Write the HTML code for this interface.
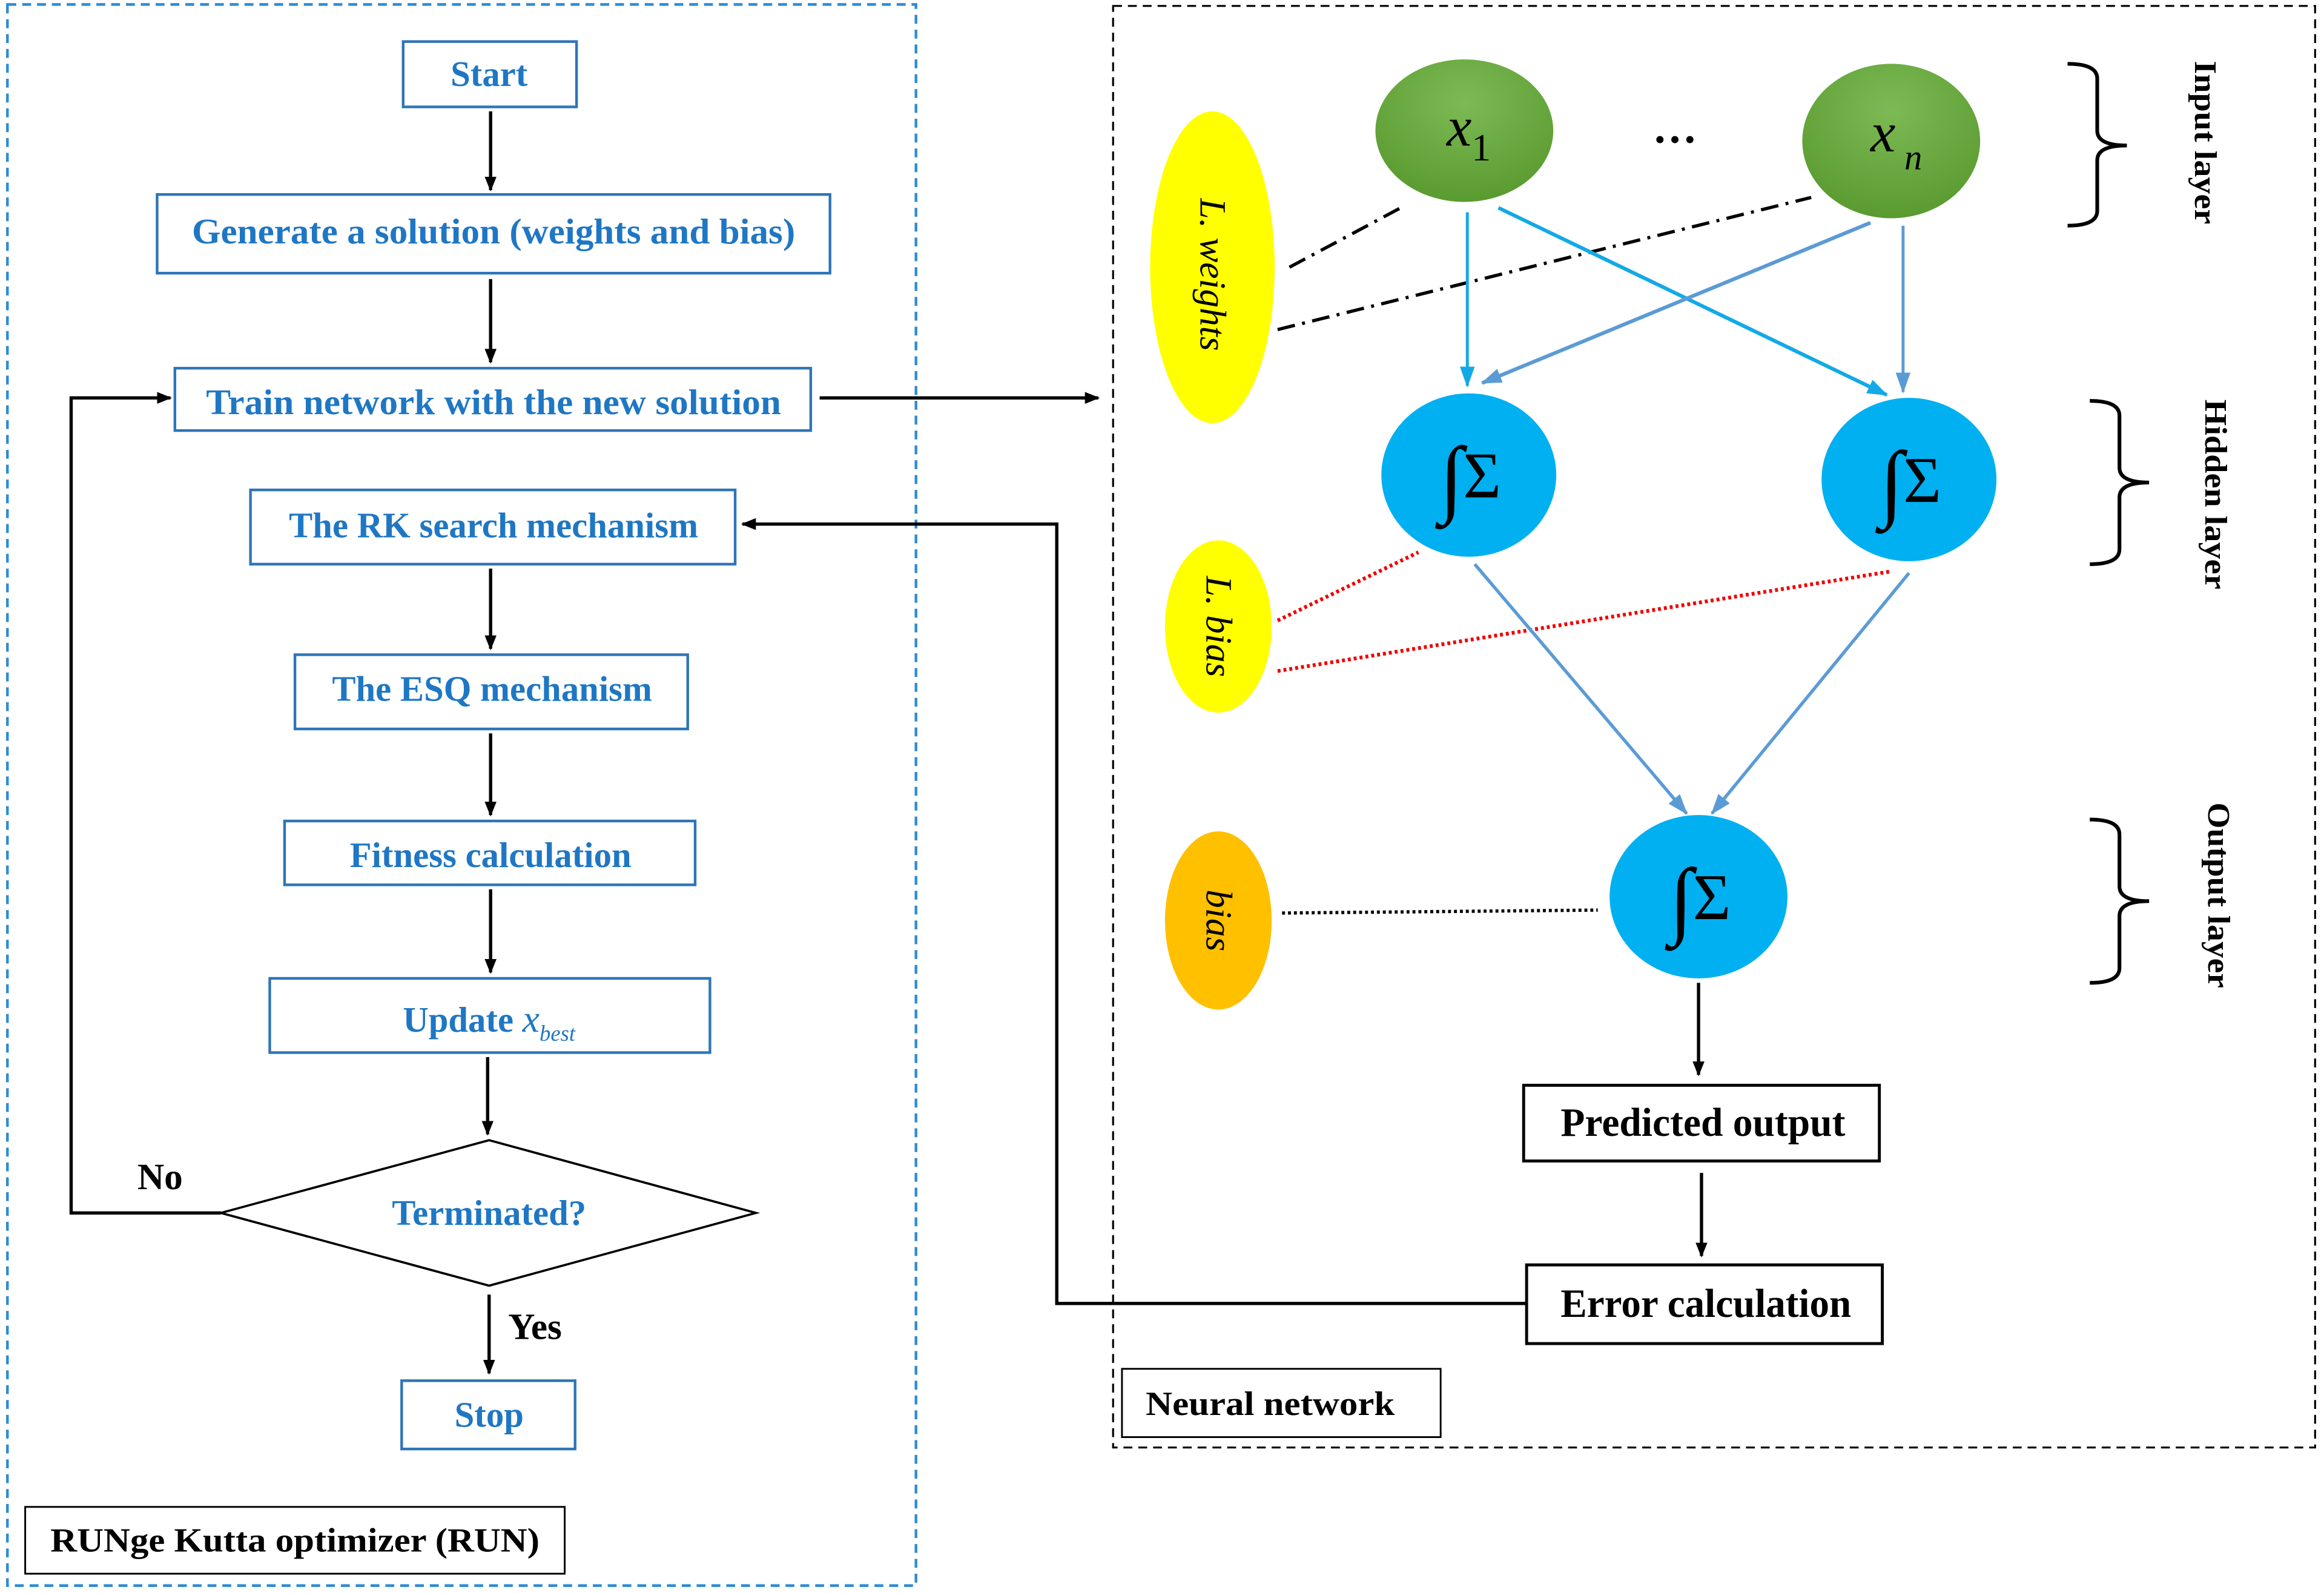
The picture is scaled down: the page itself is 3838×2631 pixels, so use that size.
<!DOCTYPE html>
<html><head><meta charset="utf-8"><style>html,body{margin:0;padding:0;background:#fff}svg{display:block}</style></head>
<body>
<svg width="3838" height="2631" viewBox="0 0 1568 1073" preserveAspectRatio="none" xmlns="http://www.w3.org/2000/svg" font-family="Liberation Serif, serif">
<defs>
<marker id="ak" markerWidth="10" markerHeight="10" refX="9" refY="5" orient="auto" markerUnits="userSpaceOnUse"><path d="M0,1 L10,5 L0,9 z" fill="#000"/></marker>
<marker id="ab" markerWidth="14" markerHeight="12" refX="13" refY="6" orient="auto" markerUnits="userSpaceOnUse"><path d="M0,1 L14,6 L0,11 z" fill="#12a9e6"/></marker>
<marker id="ab2" markerWidth="14" markerHeight="12" refX="13" refY="6" orient="auto" markerUnits="userSpaceOnUse"><path d="M0,1 L14,6 L0,11 z" fill="#5b9bd5"/></marker>
<radialGradient id="gg" cx="50%" cy="30%" r="70%"><stop offset="0" stop-color="#7dba55"/><stop offset="1" stop-color="#5a9b30"/></radialGradient>
</defs>
<rect x="5" y="3" width="613" height="1065" fill="none" stroke="#2e8bd6" stroke-width="1.8" stroke-dasharray="6,4"/>
<g fill="#fff" stroke="#2e75b6" stroke-width="1.8">
<rect x="272" y="28" width="117" height="44"/>
<rect x="106" y="131" width="454" height="53"/>
<rect x="118" y="248" width="429" height="42"/>
<rect x="169" y="330" width="327" height="50"/>
<rect x="199" y="441" width="265" height="50"/>
<rect x="192" y="553" width="277" height="43"/>
<rect x="182" y="659" width="297" height="50"/>
<polygon points="149,817 330,768 510,817 330,866" stroke="#000" stroke-width="1.5"/>
<rect x="271" y="930" width="117" height="46"/>
</g>
<rect x="17" y="1015" width="364" height="45" fill="#fff" stroke="#000" stroke-width="1.2"/>
<g fill="#1f77c4" font-weight="bold" font-size="24" text-anchor="middle">
<text x="330" y="58">Start</text>
<text x="333" y="164" textLength="407" lengthAdjust="spacingAndGlyphs">Generate a solution (weights and bias)</text>
<text x="333" y="279" textLength="388" lengthAdjust="spacingAndGlyphs">Train network with the new solution</text>
<text x="333" y="362">The RK search mechanism</text>
<text x="332" y="472">The ESQ mechanism</text>
<text x="331" y="584">Fitness calculation</text>
<text x="330" y="695">Update <tspan font-style="italic" font-weight="normal" font-size="26">x</tspan><tspan font-style="italic" font-weight="normal" font-size="15" dy="6">best</tspan></text>
<text x="330" y="825">Terminated?</text>
<text x="330" y="961">Stop</text>
</g>
<text x="199" y="1045" text-anchor="middle" font-weight="bold" font-size="23" textLength="330" lengthAdjust="spacingAndGlyphs">RUNge Kutta optimizer (RUN)</text>
<text x="108" y="801" text-anchor="middle" font-weight="bold" font-size="25">No</text>
<text x="361" y="902" text-anchor="middle" font-weight="bold" font-size="25">Yes</text>
<g stroke="#000" stroke-width="2.2" fill="none" marker-end="url(#ak)">
<line x1="331" y1="75" x2="331" y2="128"/>
<line x1="331" y1="188" x2="331" y2="244"/>
<line x1="331" y1="383" x2="331" y2="437"/>
<line x1="331" y1="494" x2="331" y2="549"/>
<line x1="331" y1="599" x2="331" y2="655"/>
<line x1="329" y1="712" x2="329" y2="764"/>
<line x1="330" y1="872" x2="330" y2="925"/>
<polyline points="149,817 48,817 48,268 115,268"/>
<line x1="553" y1="268" x2="741" y2="268"/>
<polyline points="1030,878 713,878 713,353 501,353"/>
<line x1="1146" y1="662" x2="1146" y2="724"/>
<line x1="1148" y1="790" x2="1148" y2="846"/>
</g>
<rect x="751" y="4" width="811" height="971" fill="none" stroke="#000" stroke-width="1.3" stroke-dasharray="6,4"/>
<rect x="757" y="922" width="215" height="46" fill="#fff" stroke="#000" stroke-width="1.2"/>
<text x="857" y="953" text-anchor="middle" font-weight="bold" font-size="23" textLength="168" lengthAdjust="spacingAndGlyphs">Neural network</text>
<rect x="1028" y="731" width="240" height="51" fill="#fff" stroke="#000" stroke-width="2"/>
<rect x="1030" y="852" width="240" height="53" fill="#fff" stroke="#000" stroke-width="2"/>
<text x="1149" y="765" text-anchor="middle" font-weight="bold" font-size="27" textLength="192" lengthAdjust="spacingAndGlyphs">Predicted output</text>
<text x="1151" y="887" text-anchor="middle" font-weight="bold" font-size="27" textLength="196" lengthAdjust="spacingAndGlyphs">Error calculation</text>
<g fill="none">
<line x1="870" y1="180" x2="945" y2="140" stroke="#000" stroke-width="2.2" stroke-dasharray="12,5,2,5"/>
<line x1="862" y1="222" x2="1222" y2="133" stroke="#000" stroke-width="2.2" stroke-dasharray="12,5,2,5"/>
<line x1="862" y1="418" x2="957" y2="372" stroke="#e00" stroke-width="2.5" stroke-dasharray="2,2"/>
<line x1="862" y1="452" x2="1275" y2="385" stroke="#e00" stroke-width="2.5" stroke-dasharray="2,2"/>
<line x1="865" y1="615" x2="1078" y2="613" stroke="#000" stroke-width="2.2" stroke-dasharray="2,2"/>
<line x1="990" y1="143" x2="990" y2="260" stroke="#12a9e6" stroke-width="2" marker-end="url(#ab)"/>
<line x1="1011" y1="140" x2="1273" y2="266" stroke="#12a9e6" stroke-width="2.5" marker-end="url(#ab)"/>
<line x1="1262" y1="150" x2="1000" y2="258" stroke="#5b9bd5" stroke-width="2.5" marker-end="url(#ab2)"/>
<line x1="1284" y1="152" x2="1284" y2="264" stroke="#5b9bd5" stroke-width="2" marker-end="url(#ab2)"/>
<line x1="995" y1="380" x2="1138" y2="548" stroke="#5b9bd5" stroke-width="2.2" marker-end="url(#ab2)"/>
<line x1="1288" y1="386" x2="1155" y2="548" stroke="#5b9bd5" stroke-width="2.2" marker-end="url(#ab2)"/>
</g>
<ellipse cx="818" cy="180" rx="42" ry="105" fill="#ffff00"/>
<ellipse cx="822" cy="422" rx="36" ry="58" fill="#ffff00"/>
<ellipse cx="822" cy="620" rx="36" ry="60" fill="#ffc000"/>
<ellipse cx="988" cy="88" rx="60" ry="48" fill="url(#gg)"/>
<ellipse cx="1276" cy="95" rx="60" ry="52" fill="url(#gg)"/>
<ellipse cx="991" cy="320" rx="59" ry="55" fill="#00b0f0"/>
<ellipse cx="1288" cy="323" rx="59" ry="55" fill="#00b0f0"/>
<ellipse cx="1146" cy="604" rx="60" ry="55" fill="#00b0f0"/>
<g font-style="italic" font-size="25" text-anchor="middle">
<text transform="translate(810,185) rotate(90)">L. weights</text>
<text transform="translate(814,422) rotate(90)">L. bias</text>
<text transform="translate(814,620) rotate(90)">bias</text>
</g>
<text x="976" y="98" font-style="italic" font-size="38">x<tspan font-style="normal" font-size="26" dy="10">1</tspan></text>
<text x="1262" y="102" font-style="italic" font-size="38">x<tspan font-size="24" dy="12"> n</tspan></text>
<text x="1130" y="96" text-anchor="middle" font-weight="bold" font-size="30">…</text>
<g font-size="44" text-anchor="middle">
<text x="992" y="335"><tspan font-size="58" dy="6">∫</tspan><tspan dy="-6">Σ</tspan></text>
<text x="1289" y="338"><tspan font-size="58" dy="6">∫</tspan><tspan dy="-6">Σ</tspan></text>
<text x="1147" y="619"><tspan font-size="58" dy="6">∫</tspan><tspan dy="-6">Σ</tspan></text>
</g>
<g fill="none" stroke="#000" stroke-width="2.5">
<path d="M1395,43 q20,0 20,10 v35 q0,10 20,10 q-20,0 -20,10 v34 q0,10 -20,10"/>
<path d="M1410,270 q20,0 20,10 v35 q0,10 20,10 q-20,0 -20,10 v35 q0,10 -20,10"/>
<path d="M1410,552 q20,0 20,10 v35 q0,10 20,10 q-20,0 -20,10 v35 q0,10 -20,10"/>
</g>
<g font-weight="bold" font-size="21" text-anchor="middle">
<text transform="translate(1481,96) rotate(90)" textLength="110" lengthAdjust="spacingAndGlyphs">Input layer</text>
<text transform="translate(1488,333) rotate(90)" textLength="128" lengthAdjust="spacingAndGlyphs">Hidden layer</text>
<text transform="translate(1490,603) rotate(90)" textLength="125" lengthAdjust="spacingAndGlyphs">Output layer</text>
</g>
</svg>
</body></html>
